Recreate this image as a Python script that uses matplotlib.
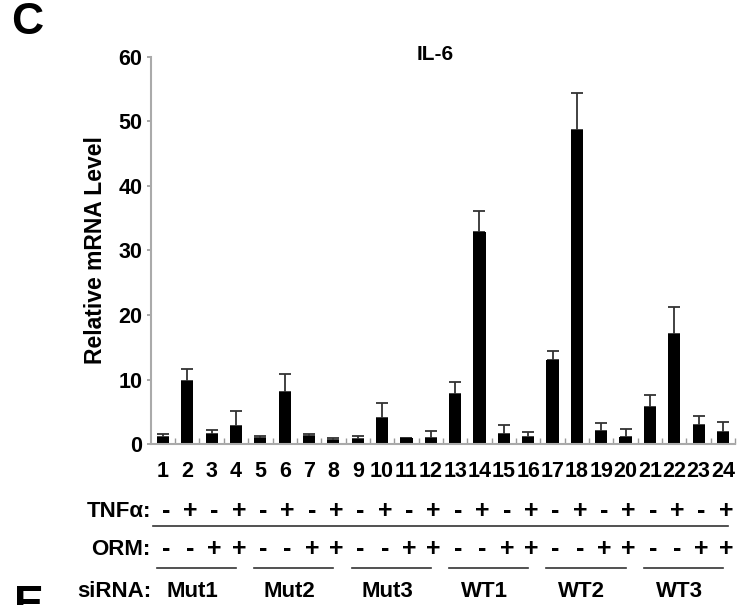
import numpy as np
import matplotlib
matplotlib.use("Agg")
import matplotlib.pyplot as plt

plt.rcParams['font.family'] = ['Liberation Sans', 'DejaVu Sans']
plt.rcParams['font.weight'] = 'bold'

# data
samples = list(range(1, 25))
mean_vals = [1.1, 9.85, 1.5, 2.8, 1.0, 8.0, 1.3, 0.6,
             0.8, 4.1, 0.9, 1.0, 7.7, 32.8, 1.6, 1.1,
             13.0, 48.6, 2.1, 1.1, 5.7, 17.1, 3.0, 1.9]
upper_vals = [1.6, 11.7, 2.2, 5.2, 1.3, 10.9, 1.5, 1.0,
              1.3, 6.4, 1.0, 2.1, 9.6, 36.1, 2.9, 1.8,
              14.4, 54.4, 3.3, 2.3, 7.6, 21.3, 4.4, 3.4]
tnf = ['-', '+', '-', '+'] * 6
orm = ['-', '-', '+', '+'] * 6
sirna = ['Mut1', 'Mut2', 'Mut3', 'WT1', 'WT2', 'WT3']

x = np.array(samples)
vals = np.array(mean_vals)
err = np.array(upper_vals) - vals

fig = plt.figure(figsize=(7.54, 6.05), dpi=100)
ax = fig.add_axes([0.2, 0.266, 0.775, 0.64])

ax.bar(x, vals, width=0.5, color='black', zorder=2)
ax.errorbar(x, vals, yerr=[np.zeros_like(err), err], fmt='none',
            ecolor='#333333', elinewidth=1.3, capsize=4, capthick=1.3, zorder=1)

ax.set_xlim(0.5, 24.5)
ax.set_ylim(0, 60)
ax.set_yticks(range(0, 61, 10))
ax.set_yticklabels([str(v) for v in range(0, 61, 10)], fontsize=15.5, fontweight='bold')
ax.set_xticks([])
ax.set_xticks(np.arange(1.5, 25, 1.0), minor=True)
ax.tick_params(axis='x', which='minor', direction='in', length=4, color='#999999', width=1)
ax.tick_params(axis='y', direction='out', length=3, color='#999999', width=1.2, pad=3)

for s in ['top', 'right']:
    ax.spines[s].set_visible(False)
for s in ['left', 'bottom']:
    ax.spines[s].set_color('#aaaaaa')
    ax.spines[s].set_linewidth(1.5)

ax.set_ylabel('Relative mRNA Level', fontsize=16.5, fontweight='bold', labelpad=8)
ax.text(12.17, 60.3, 'IL-6', ha='center', va='center', fontsize=15, fontweight='bold')

trans = ax.get_xaxis_transform()
for i, s in enumerate(samples):
    ax.text(s, -0.072, str(s), transform=trans, ha='center', va='center', fontsize=15.5, clip_on=False)
    ax.text(s + 0.12, -0.173, tnf[i], transform=trans, ha='center', va='center', fontsize=18, clip_on=False)
    ax.text(s + 0.12, -0.271, orm[i], transform=trans, ha='center', va='center', fontsize=18, clip_on=False)

ax.text(0.5, -0.173, 'TNF\u03b1:', transform=trans, ha='right', va='center', fontsize=16)
ax.text(0.5, -0.271, 'ORM:', transform=trans, ha='right', va='center', fontsize=16)
ax.text(0.52, -0.382, 'siRNA:', transform=trans, ha='right', va='center', fontsize=16)

ax.plot([0.6, 24.2], [-0.212, -0.212], transform=trans, color='#333333', lw=1.2, clip_on=False)
for g, name in enumerate(sirna):
    ax.plot([4 * g + 0.75, 4 * g + 4.0], [-0.32, -0.32], transform=trans,
            color='#333333', lw=1.2, clip_on=False)
    ax.text(4 * g + 2.2, -0.382, name, transform=trans, ha='center', va='center', fontsize=16)

fig.text(27 / 754, 1 - 23 / 605, 'C', ha='center', va='center', fontsize=32, fontweight='bold')
# label of the next panel, cut off by the bottom edge as in the source figure
fig.text(29 / 754, 1 - 585 / 605, 'E', ha='center', va='top', fontsize=32, fontweight='bold')

fig.savefig('out.png', dpi=100)
